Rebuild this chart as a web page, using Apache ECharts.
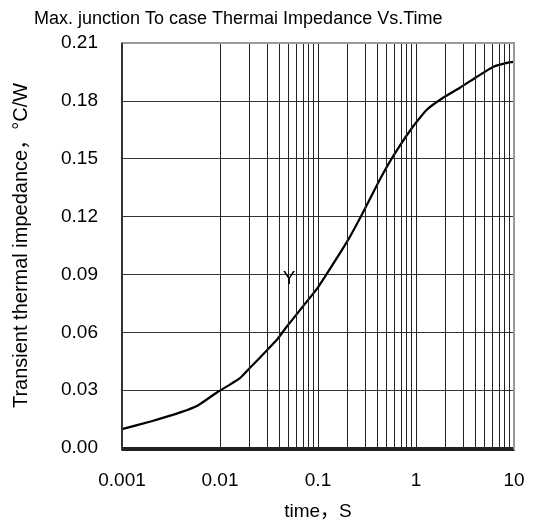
<!DOCTYPE html>
<html>
<head>
<meta charset="utf-8">
<script src="https://cdn.jsdelivr.net/npm/echarts@6/dist/echarts.min.js"></script>
<style>
  html, body { margin: 0; padding: 0; background: #fff; }
  #chart { width: 534px; height: 526px; }
</style>
</head>
<body>
<div id="chart"></div>
<script>
// Transient thermal impedance curve (time in seconds, impedance in °C/W)
const timeS = [0.001, 0.002, 0.004, 0.006, 0.0093, 0.012, 0.016, 0.02, 0.03, 0.039, 0.049,
               0.0978, 0.1325, 0.198, 0.28, 0.429, 0.583, 0.932, 1.29, 1.89, 2.81, 4.19, 6.1, 8.48, 10];
const impedance = [0.0098, 0.0139, 0.0186, 0.0222, 0.0288, 0.0322, 0.0362, 0.0413, 0.0506, 0.0568, 0.0635,
                   0.0826, 0.0929, 0.107, 0.121, 0.1393, 0.1512, 0.1667, 0.1754, 0.1816, 0.1868, 0.1925, 0.1976, 0.1997, 0.2002];
const yTicks = [0.00, 0.03, 0.06, 0.09, 0.12, 0.15, 0.18, 0.21];
const xDecades = [0.001, 0.01, 0.1, 1];
const seriesName = 'Y';
const seriesNamePos = [0.0506, 0.0877];

// Logarithmic grid: intermediate lines at 2..9 within each decade
const minorLines = [];
xDecades.forEach(d => {
  for (let k = 2; k <= 9; k++) minorLines.push({ xAxis: d * k });
});

const font = '"Liberation Sans", Arial, "Noto Sans CJK SC", sans-serif';
const chart = echarts.init(document.getElementById('chart'), null, { renderer: 'canvas' });

chart.setOption({
  animation: false,
  title: {
    text: 'Max. junction To case Thermai Impedance Vs.Time',
    left: 29, top: 5,
    textStyle: { fontFamily: font, fontSize: 18, fontWeight: 'normal', color: '#000' }
  },
  grid: { left: 122, right: 20, top: 43, bottom: 76, containLabel: false },
  xAxis: {
    type: 'log', logBase: 10, min: 0.001, max: 10,
    name: 'time，S', nameLocation: 'middle', nameGap: 54,
    nameTextStyle: { fontFamily: font, fontSize: 19, color: '#000' },
    axisLine: { lineStyle: { color: '#222', width: 2 } },
    axisTick: { show: false },
    axisLabel: {
      fontFamily: font, fontSize: 19, color: '#000', margin: 23,
      formatter: v => String(v)
    },
    splitLine: { show: true, lineStyle: { color: '#222', width: 1 } }
  },
  yAxis: {
    type: 'value', min: 0, max: 0.21, interval: 0.03,
    name: 'Transient thermal impedance，°C/W', nameLocation: 'middle', nameGap: 91, nameRotate: 90,
    nameTextStyle: { fontFamily: font, fontSize: 20, color: '#000' },
    axisLine: { lineStyle: { color: '#333', width: 2 } },
    axisTick: { show: false },
    axisLabel: {
      fontFamily: font, fontSize: 19, color: '#000', margin: 24,
      formatter: v => v.toFixed(2)
    },
    splitLine: { show: true, lineStyle: { color: '#333', width: 1 } }
  },
  series: [{
    name: seriesName,
    type: 'line',
    data: timeS.map((t, i) => [t, impedance[i]]),
    smooth: 0.15,
    symbol: 'none',
    lineStyle: { color: '#000', width: 2.2 },
    markLine: {
      silent: true, symbol: 'none', label: { show: false },
      lineStyle: { color: '#222', width: 1, type: 'solid' },
      data: minorLines
    },
    markPoint: {
      symbol: 'circle', symbolSize: 0,
      label: { show: true, formatter: seriesName, fontFamily: font, fontSize: 19, color: '#000', position: 'inside' },
      data: [{ coord: seriesNamePos }]
    }
  }],
  graphic: [
    { type: 'rect', shape: { x: 122, y: 43, width: 392, height: 407 }, style: { fill: 'none', stroke: '#999', lineWidth: 2 }, z: 10 },
    { type: 'line', shape: { x1: 122, y1: 43, x2: 122, y2: 450 }, style: { stroke: '#333', lineWidth: 2 }, z: 11 },
    { type: 'line', shape: { x1: 122, y1: 450, x2: 514, y2: 450 }, style: { stroke: '#222', lineWidth: 2 }, z: 11 }
  ]
});
</script>
</body>
</html>
